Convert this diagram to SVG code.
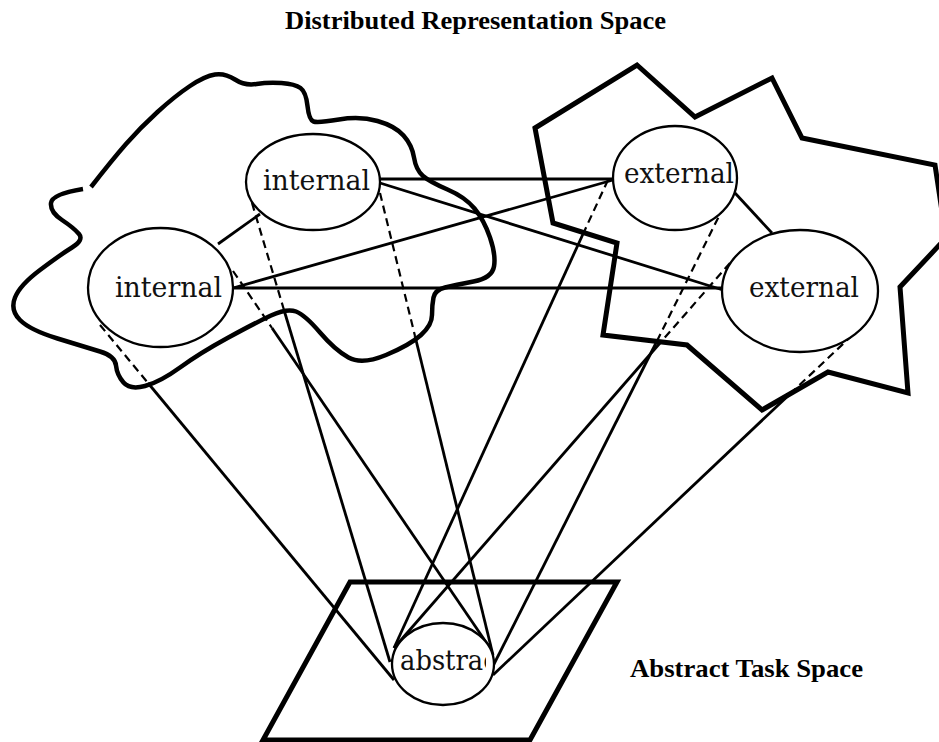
<svg xmlns="http://www.w3.org/2000/svg" width="939" height="742" viewBox="0 0 939 742">
<style>
.region{fill:none;stroke:#000;stroke-linejoin:miter}
.blob{stroke-width:4.5;stroke-linecap:butt;stroke-linejoin:round}
.star{stroke-width:5}
.para{stroke-width:5}
.node{fill:#fff;stroke:#000;stroke-width:2.3}
.lbl{font-family:"DejaVu Serif","Liberation Serif",serif;font-size:28px;fill:#111}
.title{font-family:"Liberation Serif","Times New Roman",serif;font-weight:bold;font-size:26px;fill:#000}
.c{stroke:#000;stroke-width:2.8;fill:none}
.d{stroke:#000;stroke-width:2.2;fill:none;stroke-dasharray:8 5}
</style>
<defs>
<clipPath id="clipAbs"><rect x="392" y="620" width="94" height="90"/></clipPath>
<clipPath id="clipExt1"><ellipse cx="675" cy="178" rx="61" ry="51"/></clipPath>
</defs>
<rect width="939" height="742" fill="#fff"/>

<text class="title" x="285" y="29" textLength="381" lengthAdjust="spacingAndGlyphs">Distributed Representation Space</text>
<text class="title" x="630" y="677" textLength="233" lengthAdjust="spacingAndGlyphs">Abstract Task Space</text>

<g id="internal-space">
<path class="region blob" d="M91,187 Q112,160 126,144 Q140,128 157.5,112 Q175,96 190,86 Q205,76 215,74.5 Q225,73 235,79.5 Q245,86 256.5,84 Q268,82 281.5,83 Q295,84 300.5,88 Q306,92 307.5,106 Q309,120 313.5,121.5 Q318,123 339,119.5 Q360,116 377.5,121 Q395,126 403.5,135.5 Q412,145 414,157.5 Q416,170 423,176 Q430,182 447.5,189.5 Q465,197 474.5,208.5 Q484,220 490,237.5 Q496,255 494,266.5 Q492,278 473.5,281.5 Q455,285 445,287.5 Q435,290 433.5,297.5 Q432,305 432,315 Q432,325 421,335 Q410,345 386,355 Q362,365 348.5,357.5 Q335,350 320,332.5 Q305,315 296,311.5 Q287,308 271,315.5 Q255,323 227.5,338 Q200,353 180,367.5 Q160,382 145,386 Q130,390 123.5,382.5 Q117,375 116,365.5 Q115,356 100,351.5 Q85,347 57.5,338.5 Q30,330 20,320 Q10,310 15,297.5 Q20,285 40,270 Q60,255 72,247.5 Q84,240 79,234 Q74,228 62,220 Q50,212 51,203 Q52,194 83,189"/>
</g>

<g id="external-space">
<polygon class="region star" points="535,128 637,65 695,117 772,78 802,138 935,165 946,238 900,287 908,393 828,372 762,410 687,345 603,335 617,243 553,223"/>
</g>

<g id="abstract-space">
<polygon class="region para" points="350,582 617,582 530,740 263,740"/>
</g>

<g id="connectors">
<line class="c" x1="380" y1="179" x2="613" y2="179"/>
<line class="c" x1="380" y1="183" x2="723" y2="290"/>
<line class="c" x1="233" y1="288" x2="613" y2="180"/>
<line class="c" x1="232" y1="288" x2="725" y2="288"/>
<line class="c" x1="260" y1="214" x2="218" y2="244"/>
<line class="c" x1="735" y1="193" x2="772" y2="233"/>

<line class="d" x1="100" y1="325" x2="148" y2="383"/>
<line class="c" x1="148" y1="383" x2="394" y2="680"/>

<line class="d" x1="233" y1="271" x2="272" y2="328"/>
<line class="c" x1="272" y1="328" x2="490" y2="648"/>

<line class="d" x1="252" y1="203" x2="284" y2="310"/>
<line class="c" x1="284" y1="310" x2="390" y2="662"/>

<line class="d" x1="380" y1="193" x2="415" y2="336"/>
<line class="c" x1="415" y1="336" x2="493" y2="655"/>

<line class="d" x1="608" y1="180" x2="583" y2="234"/>
<line class="c" x1="583" y1="234" x2="394" y2="648"/>

<line class="d" x1="724" y1="206" x2="657" y2="341"/>
<line class="c" x1="657" y1="341" x2="492" y2="668"/>

<line class="d" x1="730" y1="263" x2="660" y2="343"/>
<line class="c" x1="660" y1="343" x2="394" y2="648"/>

<line class="d" x1="862" y1="326" x2="791" y2="393"/>
<line class="c" x1="791" y1="393" x2="493" y2="675"/>
</g>

<g id="internal-1">
<ellipse class="node" cx="313" cy="182" rx="67" ry="48"/>
<text class="lbl" x="263" y="190" textLength="107" lengthAdjust="spacingAndGlyphs">internal</text>
</g>
<g id="internal-2">
<ellipse class="node" cx="160.5" cy="287.5" rx="72.5" ry="59.5"/>
<text class="lbl" x="115" y="297" textLength="107" lengthAdjust="spacingAndGlyphs">internal</text>
</g>
<g id="external-1">
<ellipse class="node" cx="675" cy="178" rx="62" ry="52"/>
<text class="lbl" x="624" y="183" textLength="110" lengthAdjust="spacingAndGlyphs" clip-path="url(#clipExt1)">external</text>
</g>
<g id="external-2">
<ellipse class="node" cx="800" cy="291" rx="78" ry="61"/>
<text class="lbl" x="749" y="297" textLength="110" lengthAdjust="spacingAndGlyphs">external</text>
</g>
<g id="abstract">
<ellipse class="node" cx="443" cy="664" rx="51" ry="41"/>
<text class="lbl" x="400" y="670" textLength="108" lengthAdjust="spacingAndGlyphs" clip-path="url(#clipAbs)">abstract</text>
</g>
</svg>
